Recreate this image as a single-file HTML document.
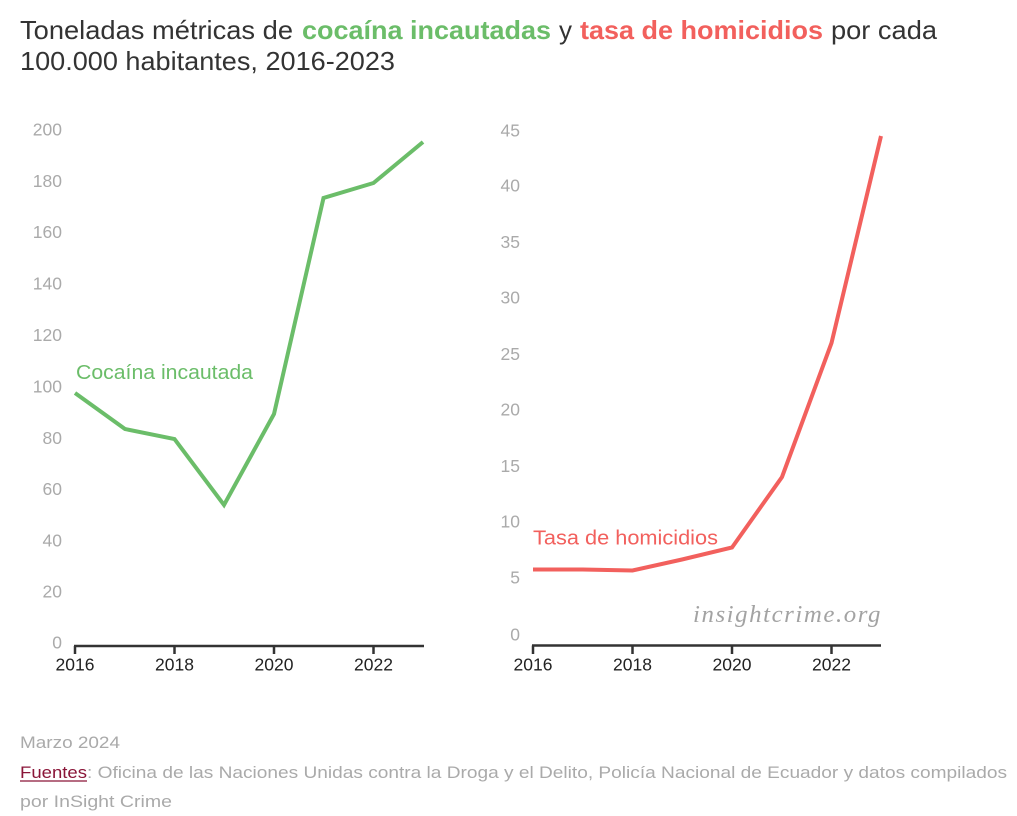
<!DOCTYPE html>
<html>
<head>
<meta charset="utf-8">
<style>
  html, body { margin: 0; padding: 0; background: #fff; }
  body { width: 1017px; height: 816px; overflow: hidden; }
  svg { display: block; }
  .s { font-family: "Liberation Sans", sans-serif; }
  .wm { font-family: "Liberation Serif", serif; font-style: italic; letter-spacing: 1.5px; }
</style>
</head>
<body>
<svg width="1017" height="816" viewBox="0 0 1017 816" xmlns="http://www.w3.org/2000/svg">
  <rect width="1017" height="816" fill="#fff"/>

  <!-- Title -->
  <g class="s" font-size="26" fill="#333">
    <text x="20" y="39" textLength="273" lengthAdjust="spacingAndGlyphs">Toneladas métricas de</text>
    <text x="302" y="39" textLength="249" lengthAdjust="spacingAndGlyphs" fill="#6bbd69" font-weight="bold">cocaína incautadas</text>
    <text x="559" y="39" textLength="13" lengthAdjust="spacingAndGlyphs">y</text>
    <text x="580" y="39" textLength="243" lengthAdjust="spacingAndGlyphs" fill="#f2605d" font-weight="bold">tasa de homicidios</text>
    <text x="831" y="39" textLength="106" lengthAdjust="spacingAndGlyphs">por cada</text>
    <text x="20" y="70" textLength="375" lengthAdjust="spacingAndGlyphs">100.000 habitantes, 2016-2023</text>
  </g>

  <!-- Left chart y labels -->
  <g class="s" font-size="17.5" fill="#aaaaaa" text-anchor="end">
    <text x="62" y="135.5">200</text>
    <text x="62" y="187">180</text>
    <text x="62" y="238">160</text>
    <text x="62" y="289.5">140</text>
    <text x="62" y="341">120</text>
    <text x="62" y="392.5">100</text>
    <text x="62" y="444">80</text>
    <text x="62" y="495">60</text>
    <text x="62" y="546.5">40</text>
    <text x="62" y="597.5">20</text>
    <text x="62" y="648.5">0</text>
  </g>

  <!-- Right chart y labels -->
  <g class="s" font-size="17.5" fill="#aaaaaa" text-anchor="end">
    <text x="520" y="136.5">45</text>
    <text x="520" y="191.5">40</text>
    <text x="520" y="248">35</text>
    <text x="520" y="303.5">30</text>
    <text x="520" y="360">25</text>
    <text x="520" y="415.5">20</text>
    <text x="520" y="472">15</text>
    <text x="520" y="527.5">10</text>
    <text x="520" y="583.5">5</text>
    <text x="520" y="640.5">0</text>
  </g>

  <!-- Left axis -->
  <g stroke="#333" stroke-width="2.5" fill="none">
    <line x1="74" y1="646" x2="424" y2="646"/>
    <line x1="75" y1="646" x2="75" y2="654"/>
    <line x1="174.5" y1="646" x2="174.5" y2="654"/>
    <line x1="274" y1="646" x2="274" y2="654"/>
    <line x1="373.5" y1="646" x2="373.5" y2="654"/>
  </g>
  <g class="s" font-size="17.5" fill="#222" text-anchor="middle">
    <text x="75" y="670.5">2016</text>
    <text x="174.5" y="670.5">2018</text>
    <text x="274" y="670.5">2020</text>
    <text x="373.5" y="670.5">2022</text>
  </g>

  <!-- Right axis -->
  <g stroke="#333" stroke-width="2.5" fill="none">
    <line x1="532" y1="645.5" x2="881" y2="645.5"/>
    <line x1="533" y1="645.5" x2="533" y2="654"/>
    <line x1="632.5" y1="645.5" x2="632.5" y2="654"/>
    <line x1="732" y1="645.5" x2="732" y2="654"/>
    <line x1="831.5" y1="645.5" x2="831.5" y2="654"/>
  </g>
  <g class="s" font-size="17.5" fill="#222" text-anchor="middle">
    <text x="533" y="670.5">2016</text>
    <text x="632.5" y="670.5">2018</text>
    <text x="732" y="670.5">2020</text>
    <text x="831.5" y="670.5">2022</text>
  </g>

  <!-- Watermark -->
  <text class="wm" x="693" y="622" font-size="24" fill="#a3a3a3" textLength="189" lengthAdjust="spacingAndGlyphs">insightcrime.org</text>

  <!-- Series lines -->
  <polyline points="75,393 125,429 174.5,439 224,505 274,414 323.5,198 373.5,183 423,142"
            fill="none" stroke="#6bbd69" stroke-width="4" stroke-linejoin="miter" stroke-miterlimit="4"/>
  <polyline points="533,569.5 582.5,569.5 632.5,570.5 682,559.5 732,547.5 782,477 831.5,343 881,136"
            fill="none" stroke="#f2605d" stroke-width="4" stroke-linejoin="miter" stroke-miterlimit="4"/>

  <!-- Series labels -->
  <text class="s" x="76" y="379" font-size="20" fill="#6bbd69" textLength="177" lengthAdjust="spacingAndGlyphs">Cocaína incautada</text>
  <text class="s" x="533" y="544.5" font-size="20" fill="#f2605d" textLength="185" lengthAdjust="spacingAndGlyphs">Tasa de homicidios</text>

  <!-- Footer -->
  <g class="s" font-size="16.5" fill="#aaaaaa">
    <text x="20" y="748" textLength="100" lengthAdjust="spacingAndGlyphs">Marzo 2024</text>
    <text x="20" y="778" fill="#8a1538" textLength="67" lengthAdjust="spacingAndGlyphs">Fuentes</text>
    <line x1="20" y1="781" x2="87" y2="781" stroke="#8a1538" stroke-width="1.2"/>
    <text x="87" y="778" textLength="920" lengthAdjust="spacingAndGlyphs">: Oficina de las Naciones Unidas contra la Droga y el Delito, Policía Nacional de Ecuador y datos compilados</text>
    <text x="20" y="807" textLength="152" lengthAdjust="spacingAndGlyphs">por InSight Crime</text>
  </g>
</svg>
</body>
</html>
